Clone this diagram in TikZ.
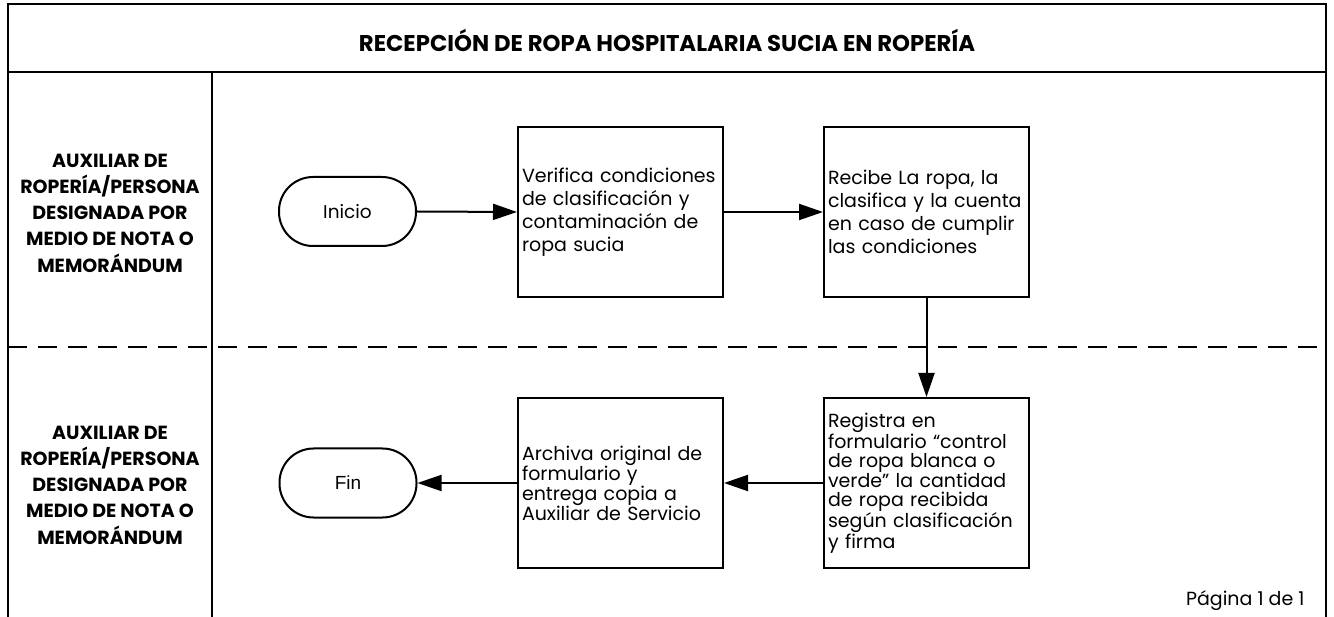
\documentclass[tikz,border=0pt]{standalone}
\usepackage{fontspec}
\setmainfont{Poppins}
\newfontfamily\arialf{Liberation Sans}
\usetikzlibrary{arrows.meta}
\tikzset{
  ln/.style={line width=2pt},
  proc/.style={draw, line width=2pt, minimum width=205pt, minimum height=170pt, align=left, inner xsep=4pt, inner ysep=4pt, anchor=north west, font=\fontsize{19}{23}\selectfont, text width=197pt},
  term/.style={draw, line width=2pt, rounded corners=34pt, minimum width=137pt, minimum height=69pt, inner sep=0pt, font=\fontsize{18.5}{20}\selectfont},
  lane/.style={align=center, font=\bfseries\fontsize{19}{26.3}\selectfont},
  arr/.style={line width=2pt, -{Triangle[length=24pt,width=16pt]}}
}
\begin{document}
\begin{tikzpicture}[x=1pt,y=-1pt]
\useasboundingbox (0,0) rectangle (1334,617);
% frame
\draw[ln] (8,617) -- (8,4) -- (1326,4) -- (1326,617);
\draw[ln] (8,72) -- (1326,72);
\draw[ln] (212,72) -- (212,617);
\draw[ln, dash pattern=on 19pt off 11pt] (8,347) -- (1326,347);
\node[font=\bfseries\fontsize{22.8}{26}\selectfont] (title) at (667,40) {RECEPCIÓN DE ROPA HOSPITALARIA SUCIA EN ROPERÍA};
% lanes
\node[lane] (l1) at (110,213) {AUXILIAR DE\\ROPERÍA/PERSONA\\DESIGNADA POR\\MEDIO DE NOTA O\\MEMORÁNDUM};
\node[lane] (l2) at (110,485) {AUXILIAR DE\\ROPERÍA/PERSONA\\DESIGNADA POR\\MEDIO DE NOTA O\\MEMORÁNDUM};
% nodes
\node[term] (ini) at (347.5,211.5) {Inicio};
\node[proc] (b1) at (517,126) {Verifica condiciones\\de clasificación y\\contaminación de\\ropa sucia};
\node[proc] (b2) at (823,126) {Recibe La ropa, la\\clasifica y la cuenta\\en caso de cumplir\\las condiciones};
\node[proc, font=\fontsize{19}{19.5}\selectfont] (b3) at (823,397) {Registra en\\formulario “control\\de ropa blanca o\\verde” la cantidad\\de ropa recibida\\según clasificación\\y firma};
\node[proc, font=\fontsize{19}{20}\selectfont] (b4) at (517,397) {Archiva original de\\formulario y\\entrega copia a\\Auxiliar de Servicio};
\node[term, font=\arialf\fontsize{19}{20}\selectfont] (fin) at (348,483) {Fin};
% connectors
\draw[arr] (ini.east) -- (b1.west);
\draw[arr] (b1.east) -- (b2.west);
\draw[arr] (b2.south) -- (b3.north);
\draw[arr] (b3.west) -- (b4.east);
\draw[arr] (b4.west) -- (fin.east);
\node[anchor=east, font=\fontsize{19}{21}\selectfont] (pg) at (1308,601) {Página 1 de 1};
\end{tikzpicture}
\end{document}
